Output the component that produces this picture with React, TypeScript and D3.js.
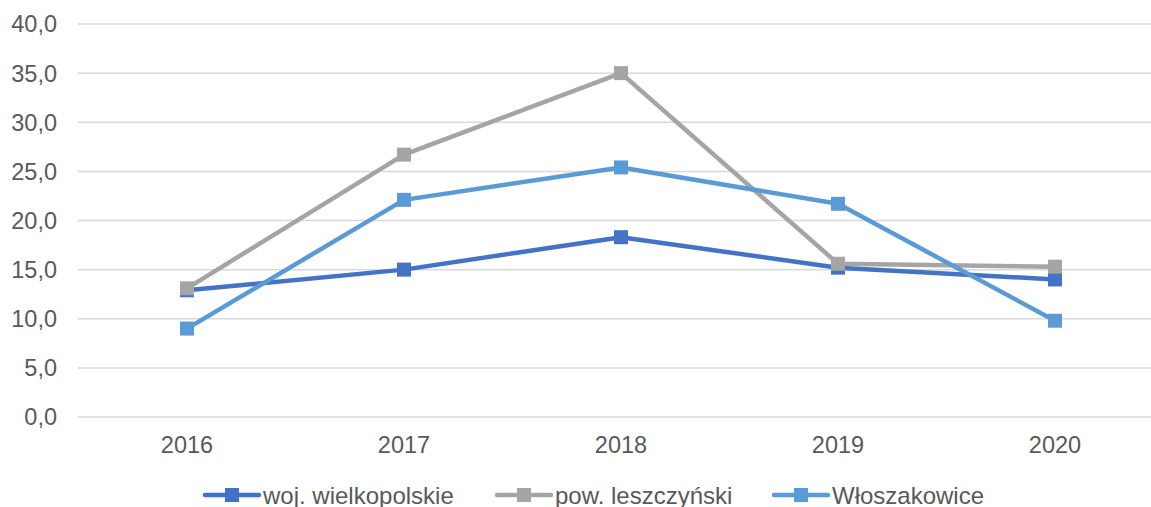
import React from "react";
import * as d3 from "d3";

const years = ["2016", "2017", "2018", "2019", "2020"];
const wojWielkopolskie = [12.9, 15.0, 18.3, 15.2, 14.0];
const powLeszczynski = [13.1, 26.7, 35.0, 15.6, 15.3];
const wloszakowice = [9.0, 22.1, 25.4, 21.7, 9.8];
const yTicks = [0, 5, 10, 15, 20, 25, 30, 35, 40];

const series = [
  { name: "woj. wielkopolskie", values: wojWielkopolskie, color: "#4472C4" },
  { name: "pow. leszczyński", values: powLeszczynski, color: "#A5A5A5" },
  { name: "Włoszakowice", values: wloszakowice, color: "#5B9BD5" },
];

const width = 1151;
const height = 507;
const font = "'Liberation Sans', Arial, sans-serif";
const textColor = "#595959";

export default function App() {
  const xScale = d3.scaleBand<string>().domain(years).range([78.5, 1163.5]);
  const yScale = d3.scaleLinear().domain([0, 40]).range([417, 24]);
  const xc = (y: string) => (xScale(y) ?? 0) + xScale.bandwidth() / 2;

  const line = d3
    .line<number>()
    .x((_, i) => xc(years[i]))
    .y((d) => yScale(d));

  const fmt = (v: number) => v.toFixed(1).replace(".", ",");

  // legend positions (line start x)
  const legendX = [203, 495, 772];
  const legendY = 495;

  return (
    <svg
      width={width}
      height={height}
      style={{ position: "absolute", left: 0, top: 0, background: "#fff" }}
    >
      {/* grid */}
      {yTicks.map((t) => (
        <line
          key={t}
          x1={78}
          x2={width}
          y1={yScale(t)}
          y2={yScale(t)}
          stroke="#D9D9D9"
          strokeWidth={1.5}
        />
      ))}

      {/* y labels */}
      {yTicks.map((t) => (
        <text
          key={t}
          x={57}
          y={yScale(t)}
          dy="0.36em"
          textAnchor="end"
          fontFamily={font}
          fontSize={23.5}
          fill={textColor}
        >
          {fmt(t)}
        </text>
      ))}

      {/* x labels */}
      {years.map((y) => (
        <text
          key={y}
          x={xc(y)}
          y={453}
          textAnchor="middle"
          fontFamily={font}
          fontSize={23.5}
          fill={textColor}
        >
          {y}
        </text>
      ))}

      {/* series */}
      {series.map((s) => (
        <g key={s.name}>
          <path
            d={line(s.values) ?? ""}
            fill="none"
            stroke={s.color}
            strokeWidth={4.5}
            strokeLinejoin="round"
            strokeLinecap="round"
          />
          {s.values.map((v, i) => (
            <rect
              key={i}
              x={xc(years[i]) - 7}
              y={yScale(v) - 7}
              width={14}
              height={14}
              fill={s.color}
            />
          ))}
        </g>
      ))}

      {/* legend */}
      {series.map((s, i) => (
        <g key={s.name} transform={`translate(${legendX[i]},${legendY})`}>
          <line
            x1={2}
            x2={56}
            y1={0}
            y2={0}
            stroke={s.color}
            strokeWidth={4.5}
            strokeLinecap="round"
          />
          <rect x={22} y={-7} width={14} height={14} fill={s.color} />
          <text
            x={60}
            y={0}
            dy="0.36em"
            fontFamily={font}
            fontSize={24}
            fill={textColor}
          >
            {s.name}
          </text>
        </g>
      ))}
    </svg>
  );
}
